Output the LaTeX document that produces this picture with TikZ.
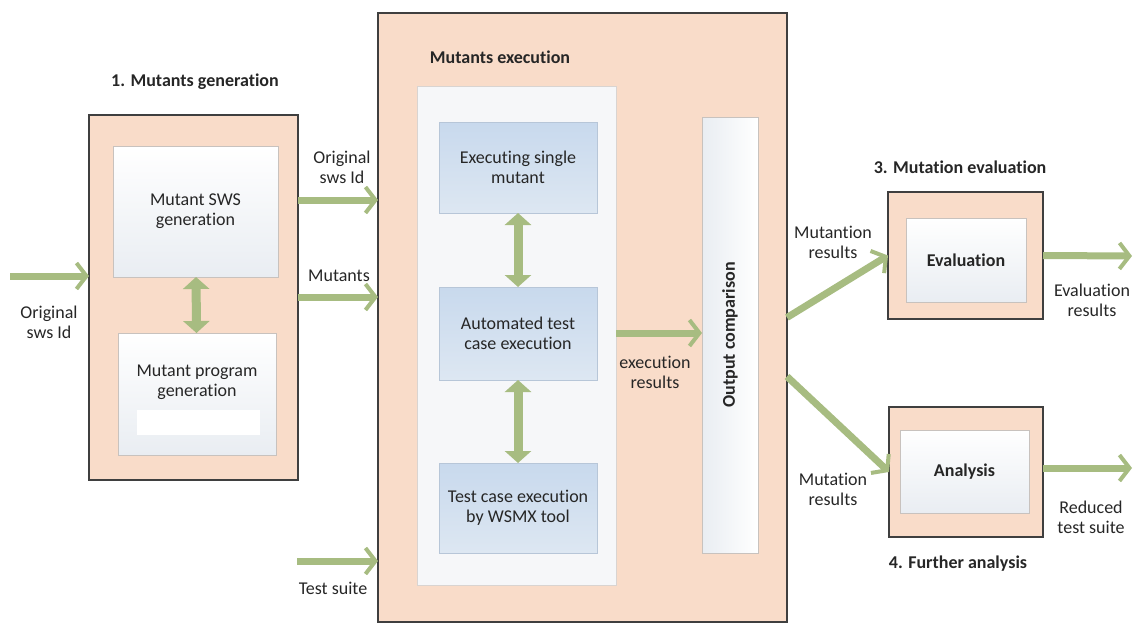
\documentclass[tikz,border=0pt]{standalone}
\usepackage{fontspec}
\setmainfont{Carlito}[Ligatures=NoCommon]
\usetikzlibrary{arrows.meta}

\definecolor{peach}{HTML}{F9DCC9}
\definecolor{frame}{HTML}{3F3F3F}
\definecolor{softgray}{HTML}{C8C2BE}
\definecolor{paleg}{HTML}{E9EDF2}
\definecolor{panelc}{HTML}{F6F7F9}
\definecolor{bluegray}{HTML}{B7C6D8}
\definecolor{blueA}{HTML}{C8D9ED}
\definecolor{blueB}{HTML}{DDE7F2}
\definecolor{arrowgreen}{HTML}{A7BC81}
\definecolor{txt}{HTML}{262626}

\begin{document}
\begin{tikzpicture}[x=1pt,y=-1pt,
    every node/.style={font=\fontsize{18}{20}\selectfont, text=txt, inner sep=0pt, outer sep=0pt},
    outerbox/.style={draw=frame, line width=1.5pt, fill=peach},
    innerbox/.style={draw=softgray, line width=0.8pt, top color=white, bottom color=paleg, align=center},
    bluebox/.style={draw=bluegray, line width=0.8pt, top color=blueA, bottom color=blueB, align=center},
    heading/.style={font=\fontsize{18}{20}\selectfont\bfseries},
    lbl/.style={align=center},
    flow/.style={draw=arrowgreen, line width=7pt, -{Straight Barb[length=10pt,width=26pt,line width=4pt]}},
    both/.style={draw=arrowgreen, line width=9pt, {Triangle[length=12pt,width=26pt]}-{Triangle[length=12pt,width=26pt]}}]
    \useasboundingbox (0,0) rectangle (1135,626);

    % 1. mutants generation
    \node[heading] (t1) at (195,82) {1. Mutants generation};
    \node[outerbox, minimum width=209pt, minimum height=365pt] (gen) at (193.5,297.5) {};
    \node[innerbox, minimum width=165pt, minimum height=131pt] (sws) at (195.5,211.5) {Mutant SWS\\generation};
    \node[innerbox, minimum width=158pt, minimum height=122pt] (prog) at (197,394) {Mutant program\\generation\\\strut};
    \fill[white] (137,410) rectangle (260,435);
    \draw[both] (sws) -- (prog);

    % mutants execution
    \node[outerbox, minimum width=409pt, minimum height=609pt] (exec) at (582.5,317.5) {};
    \node[heading] (t2) at (500,57) {Mutants execution};
    \node[draw=softgray!70, line width=0.8pt, fill=panelc, minimum width=199pt, minimum height=499pt] (panel) at (516.5,335.5) {};
    \node[bluebox, minimum width=158pt, minimum height=91pt] (single) at (518,167.5) {Executing single\\mutant};
    \node[bluebox, minimum width=158pt, minimum height=93pt] (auto) at (518,333.5) {Automated test\\case execution};
    \node[bluebox, minimum width=158pt, minimum height=90pt] (wsmx) at (518,508) {Test case execution\\by WSMX tool};
    \draw[both] (single) -- (auto);
    \draw[both] (auto) -- (wsmx);
    \node[draw=softgray, line width=0.8pt, left color=paleg, right color=white, rotate=90,
          minimum width=436pt, minimum height=56pt, font=\fontsize{18}{20}\selectfont\bfseries] (cmp) at (730,335) {Output comparison};
    \draw[flow] (panel.east |- 0,333) -- (cmp.north |- 0,333);
    \node[lbl] (l5) at (655,372) {execution\\results};

    % inputs
    \coordinate (src) at (10,276);
    \draw[flow] (src) -- (src -| gen.west);
    \node[lbl] (l1) at (49,322) {Original\\sws Id};
    \draw[flow] (gen.east |- 0,200) -- (exec.west |- 0,200);
    \node[lbl] (l2) at (342,167) {Original\\sws Id};
    \draw[flow] (gen.east |- 0,297) -- (exec.west |- 0,297);
    \node (l3) at (339,276) {Mutants};
    \coordinate (suite) at (297,561);
    \draw[flow] (suite) -- (suite -| exec.west);
    \node (l4) at (333,588) {Test suite};

    % 3. mutation evaluation
    \node[heading] (t3) at (960,167) {3. Mutation evaluation};
    \node[outerbox, minimum width=155pt, minimum height=127pt] (ev) at (965.5,255.5) {};
    \node[innerbox, minimum width=120pt, minimum height=84pt, font=\fontsize{18}{20}\selectfont\bfseries] (evi) at (966,260) {Evaluation};
    \draw[flow] (exec.east) -- (ev.west);
    \node[lbl] (l6) at (833,242) {Mutantion\\results};
    \coordinate (evout) at (1132,256);
    \draw[flow] (ev.east) -- (evout);
    \node[lbl] (l7) at (1092,300) {Evaluation\\results};

    % 4. further analysis
    \node[outerbox, minimum width=154pt, minimum height=130pt] (an) at (966,472) {};
    \node[innerbox, minimum width=129pt, minimum height=83pt, font=\fontsize{18}{20}\selectfont\bfseries] (ani) at (964.5,471.5) {Analysis};
    \node[heading] (t4) at (958,564) {4. Further analysis};
    \draw[flow] ([yshift=-59pt]exec.east) -- (an.west);
    \node[lbl] (l8) at (833,489) {Mutation\\results};
    \coordinate (anout) at (1132,468);
    \draw[flow] (an.east |- anout) -- (anout);
    \node[lbl] (l9) at (1091,517) {Reduced\\test suite};
\end{tikzpicture}
\end{document}
